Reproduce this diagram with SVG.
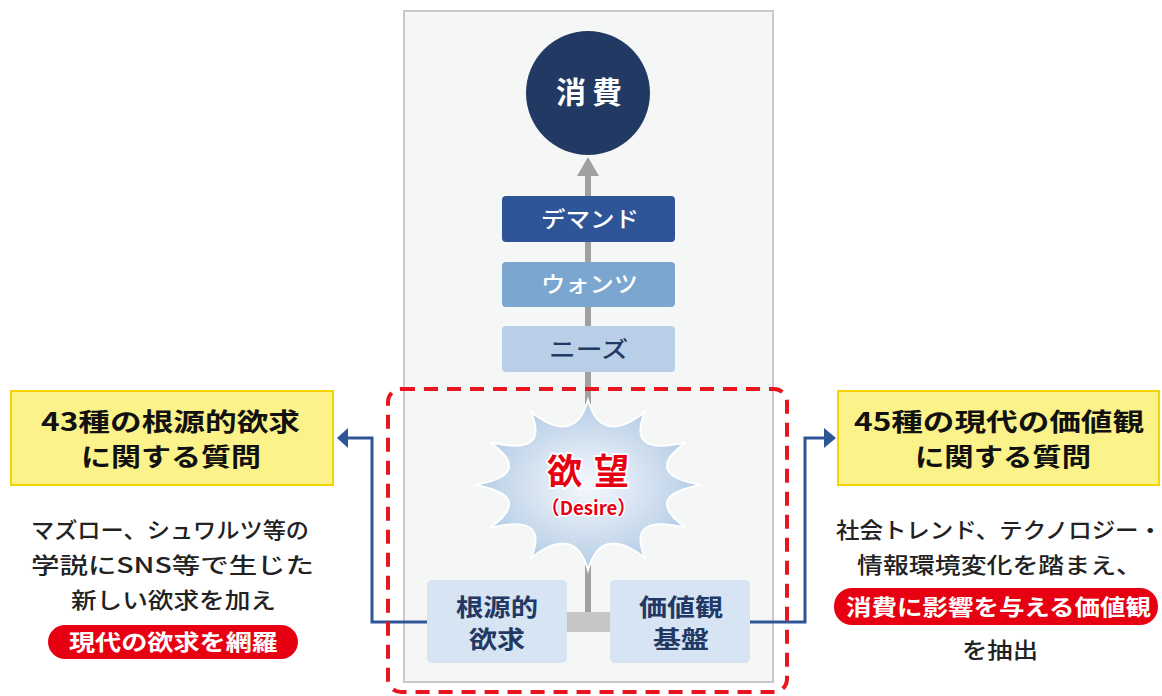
<svg xmlns="http://www.w3.org/2000/svg" width="1162" height="696" viewBox="0 0 1162 696">
<style>
  text { font-family: "Noto Sans CJK JP", "Noto Sans", sans-serif; }
  .title { font-size: 25px; font-weight: 700; fill: #111; }
  .body { font-size: 22px; font-weight: 500; fill: #222; }
  .pilltxt { font-size: 22px; font-weight: 700; fill: #fff; }
  .step { font-size: 22px; font-weight: 500; }
  .base { font-size: 24px; font-weight: 700; fill: #223963; }
  .ybox { fill: #fbf38a; stroke: #f7d400; stroke-width: 2; }
  .pill { fill: #e60012; }
  .blue { fill: none; stroke: #2f5597; stroke-width: 3; }
  .gray { stroke: #a0a0a0; stroke-width: 6; }
</style>
<defs>
  <radialGradient id="burst" cx="0.5" cy="0.5" r="0.5">
    <stop offset="0" stop-color="#f4f8fc"/>
    <stop offset="0.45" stop-color="#d9e5f2"/>
    <stop offset="1" stop-color="#b4cce6"/>
  </radialGradient>
</defs>

<rect width="1162" height="696" fill="#ffffff"/>

<!-- panel -->
<rect id="panel" x="404" y="11" width="369" height="671" fill="#f5f6f6" stroke="#c9c9c9" stroke-width="2"/>

<g id="connectors">
  <line class="gray" x1="588" y1="174" x2="588" y2="404"/>
  <polygon points="588,157 599,176 577,176" fill="#a0a0a0"/>
  <line class="gray" x1="588" y1="562" x2="588" y2="614"/>
  <rect x="567" y="612" width="43" height="20" fill="#c6c6c6"/>
  <polyline class="blue" points="427,622 372,622 372,438 346,438"/>
  <polygon points="337,438 348,428 348,448" fill="#2f5597"/>
  <polyline class="blue" points="750,622 805,622 805,438 826,438"/>
  <polygon points="836,438 824,428 824,448" fill="#2f5597"/>
</g>

<g id="node-consumption">
  <circle cx="588" cy="93" r="62" fill="#223963"/>
  <text x="556" y="103" font-size="30" font-weight="700" fill="#fff" textLength="66" lengthAdjust="spacing">消費</text>
</g>

<g id="node-demand">
  <rect x="502" y="196" width="173" height="46" rx="4" fill="#2e5597"/>
  <text class="step" x="541" y="227" fill="#fff" textLength="98" lengthAdjust="spacingAndGlyphs">デマンド</text>
</g>
<g id="node-wants">
  <rect x="502" y="262" width="173" height="45" rx="4" fill="#7ba6d0"/>
  <text class="step" x="541" y="292" fill="#fff" textLength="97" lengthAdjust="spacingAndGlyphs">ウォンツ</text>
</g>
<g id="node-needs">
  <rect x="502" y="326" width="173" height="46" rx="4" fill="#b8cfe7"/>
  <text class="step" x="549" y="357" fill="#223963" textLength="79" lengthAdjust="spacingAndGlyphs">ニーズ</text>
</g>

<g id="frame-desire">
  <rect x="388" y="389" width="399" height="303" rx="13" fill="none" stroke="#e8141e" stroke-width="4" stroke-dasharray="14 9"/>
</g>

<g id="node-desire">
  <path d="M588,400 Q601,446 645,412 Q626,457 686,442 Q641,475 702,485 Q641,495 686,528 Q626,513 645,558 Q601,524 588,570 Q575,524 531,558 Q550,513 490,528 Q535,495 474,485 Q535,475 490,442 Q550,457 531,412 Q575,446 588,400 Z" fill="url(#burst)" stroke="#ffffff" stroke-width="2"/>
  <text x="547" y="484" font-size="35" font-weight="700" fill="#e60012" stroke="#ffffff" stroke-width="4" paint-order="stroke" stroke-linejoin="round" textLength="82" lengthAdjust="spacing">欲望</text>
  <text x="541" y="515" font-size="19" font-weight="700" fill="#e60012" stroke="#ffffff" stroke-width="3" paint-order="stroke" stroke-linejoin="round" textLength="95" lengthAdjust="spacingAndGlyphs">（Desire）</text>
</g>

<g id="node-fundamental">
  <rect x="427" y="580" width="140" height="83" rx="5" fill="#d6e4f3"/>
  <text class="base" x="497" y="616" text-anchor="middle" textLength="82" lengthAdjust="spacingAndGlyphs">根源的</text>
  <text class="base" x="497" y="648" text-anchor="middle" textLength="56" lengthAdjust="spacingAndGlyphs">欲求</text>
</g>
<g id="node-values">
  <rect x="610" y="580" width="140" height="83" rx="5" fill="#d6e4f3"/>
  <text class="base" x="681" y="616" text-anchor="middle" textLength="84" lengthAdjust="spacingAndGlyphs">価値観</text>
  <text class="base" x="681" y="648" text-anchor="middle" textLength="56" lengthAdjust="spacingAndGlyphs">基盤</text>
</g>

<g id="node-left-question">
  <rect class="ybox" x="11" y="391" width="322" height="94"/>
  <text class="title" x="41" y="431" textLength="259" lengthAdjust="spacingAndGlyphs">43種の根源的欲求</text>
  <text class="title" x="81" y="466" textLength="180" lengthAdjust="spacingAndGlyphs">に関する質問</text>
</g>
<g id="node-left-desc">
  <text class="body" x="31" y="538" textLength="278" lengthAdjust="spacingAndGlyphs">マズロー、シュワルツ等の</text>
  <text class="body" x="31" y="573" textLength="283" lengthAdjust="spacingAndGlyphs">学説にSNS等で生じた</text>
  <text class="body" x="71" y="608" textLength="205" lengthAdjust="spacingAndGlyphs">新しい欲求を加え</text>
  <rect class="pill" x="48" y="625" width="250" height="34" rx="17"/>
  <text class="pilltxt" x="69" y="650" textLength="209" lengthAdjust="spacingAndGlyphs">現代の欲求を網羅</text>
</g>

<g id="node-right-question">
  <rect class="ybox" x="838" y="391" width="321" height="94"/>
  <text class="title" x="854" y="431" textLength="290" lengthAdjust="spacingAndGlyphs">45種の現代の価値観</text>
  <text class="title" x="915" y="466" textLength="176" lengthAdjust="spacingAndGlyphs">に関する質問</text>
</g>
<g id="node-right-desc">
  <text class="body" x="836" y="538" textLength="326" lengthAdjust="spacingAndGlyphs">社会トレンド、テクノロジー・</text>
  <text class="body" x="857" y="573" textLength="285" lengthAdjust="spacingAndGlyphs">情報環境変化を踏まえ、</text>
  <rect class="pill" x="834" y="588" width="324" height="37" rx="18"/>
  <text class="pilltxt" x="846" y="615" textLength="305" lengthAdjust="spacingAndGlyphs">消費に影響を与える価値観</text>
  <text class="body" x="962" y="658" textLength="76" lengthAdjust="spacingAndGlyphs">を抽出</text>
</g>
</svg>
